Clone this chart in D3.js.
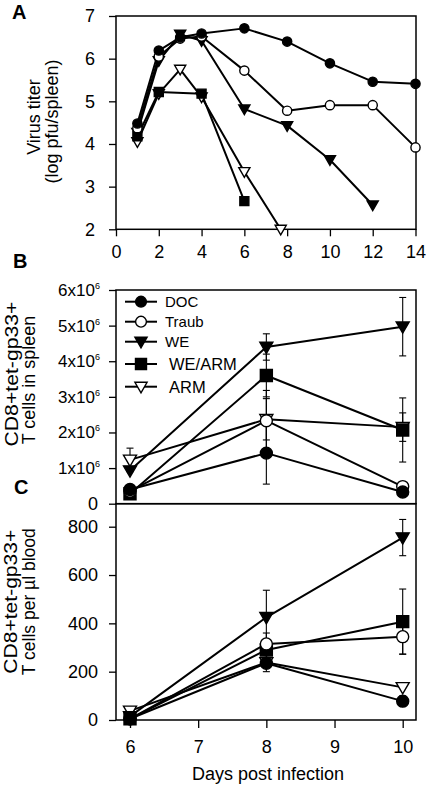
<!DOCTYPE html>
<html><head><meta charset="utf-8">
<script src="https://cdn.jsdelivr.net/npm/d3@7"></script>
<style>
body{margin:0;background:#fff}
svg{display:block}
text{font-family:"Liberation Sans",Arial,Helvetica,sans-serif;fill:#000}
</style>
</head><body>
<svg id="chart" width="427" height="785"></svg>
<script>
// ---------- DATA ----------
const seriesNames = ["DOC", "Traub", "WE", "WE/ARM", "ARM"];

// Panel A: virus titer (log pfu/spleen) vs day
const aDaysDOC   = [1, 2, 3, 4, 6, 8, 10, 12, 14];
const aTiterDOC  = [4.48, 6.19, 6.5, 6.59, 6.71, 6.4, 5.89, 5.46, 5.41];
const aDaysTraub = [1, 2, 3, 4, 6, 8, 10, 12, 14];
const aTiterTraub= [4.37, 6.05, 6.47, 6.52, 5.72, 4.78, 4.91, 4.91, 3.92];
const aDaysWE    = [1, 2, 3, 4, 6, 8, 10, 12];
const aTiterWE   = [4.27, 5.95, 6.57, 6.42, 4.82, 4.43, 3.63, 2.57];
const aDaysWEARM = [1, 2, 4, 6];
const aTiterWEARM= [4.18, 5.22, 5.18, 2.66];
const aDaysARM   = [1, 2, 3, 4, 6, 7.7];
const aTiterARM  = [4.05, 5.18, 5.75, 5.1, 3.35, 2.0];
const aXTicks = [0, 2, 4, 6, 8, 10, 12, 14];
const aYTicks = [2, 3, 4, 5, 6, 7];

// Panels B and C share days
const bcDays = [6, 8, 10];
const bcXTicks = [6, 7, 8, 9, 10];

// Panel B: CD8+tet-gp33+ T cells in spleen (x10^6)
const bDOC   = [0.40, 1.42, 0.33];  const bDOCErr   = [0, 0.87, 0];
const bTraub = [0.35, 2.33, 0.48];  const bTraubErr = [0, 0.85, 0];
const bWE    = [0.93, 4.40, 4.97];  const bWEErr    = [0, 0.37, 0.82];
const bWEARM = [0.28, 3.60, 2.07];  const bWEARMErr = [0, 0.60, 0.90];
const bARM   = [1.23, 2.37, 2.15];  const bARMErr   = [0.33, 0.58, 0.40];
const bYTicks = [0, 1, 2, 3, 4, 5, 6];

// Panel C: CD8+tet-gp33+ T cells per µl blood
const cDOC   = [5, 235, 78];    const cDOCErr   = [0, 35, 22];
const cTraub = [5, 315, 345];   const cTraubErr = [0, 45, 72];
const cWE    = [15, 425, 755];  const cWEErr    = [0, 112, 75];
const cWEARM = [5, 290, 407];   const cWEARMErr = [0, 0, 135];
const cARM   = [38, 238, 135];  const cARMErr   = [0, 0, 0];
const cYTicks = [0, 200, 400, 600, 800];

// ---------- STYLE ----------
const shapes = ["circle", "circle", "tri", "square", "tri"];
const filled = [true, false, true, true, false];

const svg = d3.select("#chart");
const FONT = '"Liberation Sans",Arial,Helvetica,sans-serif';

function symPath(shape, r) {
  if (shape === "circle") return `M${-r},0A${r},${r} 0 1,0 ${r},0A${r},${r} 0 1,0 ${-r},0Z`;
  if (shape === "square") return `M${-r},${-r}H${r}V${r}H${-r}Z`;
  const s = r * 2.1, h = s * 0.866;
  return `M${-s / 2},${-h * 0.42}L${s / 2},${-h * 0.42}L0,${h * 0.58}Z`;
}
function drawMarker(g, i, x, y, sz) {
  const r = shapes[i] === "circle" ? sz.c : shapes[i] === "square" ? sz.s : sz.t;
  g.append("path").attr("d", symPath(shapes[i], r))
    .attr("transform", `translate(${x},${y})`)
    .attr("fill", filled[i] ? "#000" : "#fff")
    .attr("stroke", "#000").attr("stroke-width", 1.4);
}
function styleAxis(g, fs) {
  g.attr("font-size", fs).attr("font-family", FONT).attr("color", "#000");
  g.select(".domain").remove();
  g.selectAll(".tick line").attr("stroke-width", 1.3);
}
function drawSeries(g, x, y, xs, ys, errs, i, sz) {
  const pts = xs.map((d, k) => [x(d), y(ys[k])]);
  if (errs) {
    xs.forEach((d, k) => {
      if (!errs[k]) return;
      const cx = x(d), y1 = y(ys[k] - errs[k]), y2 = y(ys[k] + errs[k]);
      g.append("line").attr("x1", cx).attr("x2", cx).attr("y1", y1).attr("y2", y2)
        .attr("stroke", "#000").attr("stroke-width", 1.1);
      [y1, y2].forEach(yy => g.append("line").attr("x1", cx - 3.5).attr("x2", cx + 3.5)
        .attr("y1", yy).attr("y2", yy).attr("stroke", "#000").attr("stroke-width", 1.1));
    });
  }
  g.append("path").attr("d", d3.line()(pts)).attr("fill", "none")
    .attr("stroke", "#000").attr("stroke-width", 2).attr("stroke-linejoin", "round");
}
function drawMarkers(g, x, y, xs, ys, i, sz) {
  xs.forEach((d, k) => drawMarker(g, i, x(d), y(ys[k]), sz));
}
function yTitle(lines) {
  lines.forEach(l => {
    const t = svg.append("text")
      .attr("transform", `translate(${l.x},${l.y}) rotate(-90)`)
      .attr("text-anchor", "middle").attr("font-size", l.fs || 18).text(l.text);
    if (l.len) t.attr("textLength", l.len).attr("lengthAdjust", "spacingAndGlyphs");
  });
}

// ---------- PANEL A ----------
const L = 116, R = 416;
const xA = d3.scaleLinear().domain([0, 14]).range([L, 415.5]);
const yA = d3.scaleLinear().domain([2, 7]).range([229.3, 16]);
svg.append("rect").attr("x", L).attr("y", 16).attr("width", R - L).attr("height", 229.3 - 16)
  .attr("fill", "none").attr("stroke", "#000").attr("stroke-width", 1.5);
const gAy = svg.append("g").attr("transform", `translate(${L},0)`)
  .call(d3.axisLeft(yA).tickValues(aYTicks).tickSize(7).tickPadding(14).tickFormat(d3.format("d")));
styleAxis(gAy, 18);
const gAx = svg.append("g").attr("transform", `translate(0,229.3)`)
  .call(d3.axisBottom(xA).tickValues(aXTicks).tickSize(7).tickPadding(9).tickFormat(d3.format("d")));
styleAxis(gAx, 18);

const szA = { c: 4.6, s: 4.5, t: 5.3 };
const aX = [aDaysDOC, aDaysTraub, aDaysWE, aDaysWEARM, aDaysARM];
const aY = [aTiterDOC, aTiterTraub, aTiterWE, aTiterWEARM, aTiterARM];
const gA = svg.append("g");
[4, 3, 2, 1, 0].forEach(i => drawSeries(gA, xA, yA, aX[i], aY[i], null, i, szA));
[4, 3, 2, 1, 0].forEach(i => drawMarkers(gA, xA, yA, aX[i], aY[i], i, szA));

yTitle([
  { text: "Virus titer", x: 40, y: 117 },
  { text: "(log pfu/spleen)", x: 57.5, y: 121.5 }
]);

// ---------- PANEL B ----------
const xBC = d3.scaleLinear().domain([6, 10]).range([130, 402.7]);
const yB = d3.scaleLinear().domain([0, 6]).range([503.7, 290]);
svg.append("rect").attr("x", L).attr("y", 290).attr("width", R - L).attr("height", 503.7 - 290)
  .attr("fill", "none").attr("stroke", "#000").attr("stroke-width", 1.5);
const gBy = svg.append("g").attr("transform", `translate(${L},0)`)
  .call(d3.axisLeft(yB).tickValues(bYTicks).tickSize(7).tickPadding(9));
styleAxis(gBy, 17);
gBy.selectAll(".tick text").each(function (d) {
  const t = d3.select(this);
  if (d === 0) { t.text("0").attr("font-size", 18).attr("x", -18); return; }
  t.text(d + "x10");
  t.append("tspan").attr("font-size", 9).attr("dy", -7).text("6");
});

const szBC = { c: 6, s: 6, t: 6.2 };
const bY = [bDOC, bTraub, bWE, bWEARM, bARM];
const bE = [bDOCErr, bTraubErr, bWEErr, bWEARMErr, bARMErr];
const gB = svg.append("g");
[4, 3, 2, 1, 0].forEach(i => drawSeries(gB, xBC, yB, bcDays, bY[i], bE[i], i, szBC));
[4, 3, 2, 1, 0].forEach(i => drawMarkers(gB, xBC, yB, bcDays, bY[i], i, szBC));

// legend
const legRows = [301.7, 321.7, 341.7, 364, 386.7];
const legTextX = [165, 165, 165, 169, 169];
const legFs = [15, 15, 15, 16.5, 16.5];
const szLeg = { c: 5.4, s: 5.5, t: 5.8 };
seriesNames.forEach((name, i) => {
  const yy = legRows[i];
  svg.append("line").attr("x1", 125).attr("x2", 157).attr("y1", yy).attr("y2", yy)
    .attr("stroke", "#000").attr("stroke-width", 2);
  drawMarker(svg, i, 141, yy, szLeg);
  svg.append("text").attr("x", legTextX[i]).attr("y", yy).attr("dy", "0.36em")
    .attr("font-size", legFs[i]).text(name);
});

yTitle([
  { text: "CD8+tet-gp33+", x: 18, y: 374, len: 145 },
  { text: "T cells in spleen", x: 35, y: 380 }
]);

// ---------- PANEL C ----------
const yC = d3.scaleLinear().domain([0, 800]).range([720, 526.7]);
svg.append("rect").attr("x", L).attr("y", 503.7).attr("width", R - L).attr("height", 720 - 503.7)
  .attr("fill", "none").attr("stroke", "#000").attr("stroke-width", 1.5);
const gCy = svg.append("g").attr("transform", `translate(${L},0)`)
  .call(d3.axisLeft(yC).tickValues(cYTicks).tickSize(7).tickPadding(11).tickFormat(d3.format("d")));
styleAxis(gCy, 18);
const gCx = svg.append("g").attr("transform", `translate(0,720)`)
  .call(d3.axisBottom(xBC).tickValues(bcXTicks).tickSize(8).tickPadding(12).tickFormat(d3.format("d")));
styleAxis(gCx, 18);

const cY = [cDOC, cTraub, cWE, cWEARM, cARM];
const cE = [cDOCErr, cTraubErr, cWEErr, cWEARMErr, cARMErr];
const gC = svg.append("g");
[4, 3, 2, 1, 0].forEach(i => drawSeries(gC, xBC, yC, bcDays, cY[i], cE[i], i, szBC));
[4, 3, 2, 1, 0].forEach(i => drawMarkers(gC, xBC, yC, bcDays, cY[i], i, szBC));

yTitle([
  { text: "CD8+tet-gp33+", x: 16.5, y: 601.7, len: 144 },
  { text: "T cells per µl blood", x: 34.5, y: 601.7, len: 147 }
]);

svg.append("text").attr("x", 268).attr("y", 780).attr("text-anchor", "middle")
  .attr("font-size", 18).text("Days post infection");

// panel letters
[["A", 12, 19], ["B", 13, 268], ["C", 14, 494]].forEach(([t, x, y]) =>
  svg.append("text").attr("x", x).attr("y", y).attr("font-size", 20)
    .attr("font-weight", "bold").text(t));
</script>
</body></html>
